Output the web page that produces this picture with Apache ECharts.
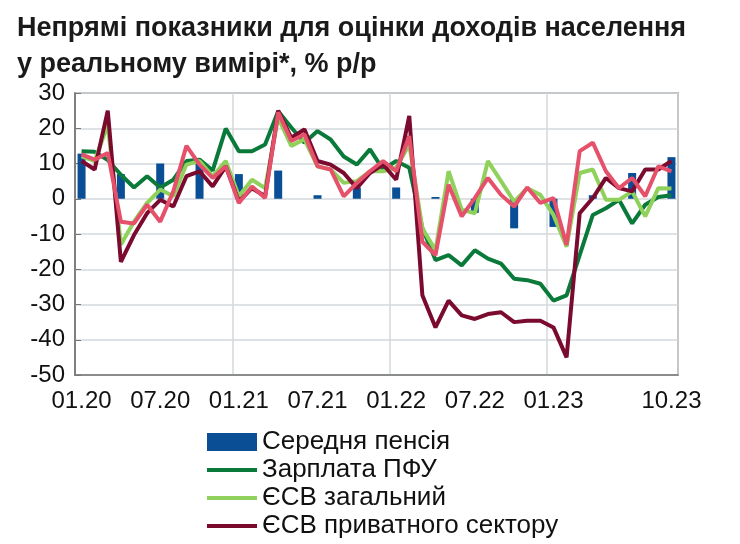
<!DOCTYPE html>
<html>
<head>
<meta charset="utf-8">
<script src="https://cdn.jsdelivr.net/npm/echarts@6/dist/echarts.min.js"></script>
<style>
	body{margin:0;background:#fff;}
	#chart{width:740px;height:544px;}
</style>
</head>
<body>
<div id="chart"></div>
<script>
var months = ['01.20','02.20','03.20','04.20','05.20','06.20','07.20','08.20','09.20','10.20','11.20','12.20',
	'01.21','02.21','03.21','04.21','05.21','06.21','07.21','08.21','09.21','10.21','11.21','12.21',
	'01.22','02.22','03.22','04.22','05.22','06.22','07.22','08.22','09.22','10.22','11.22','12.22',
	'01.23','02.23','03.23','04.23','05.23','06.23','07.23','08.23','09.23','10.23'];
var shownLabels = ['01.20','07.20','01.21','07.21','01.22','07.22','01.23','10.23'];

/*Середня пенсія (квартальні)*/
var pension = [12.8,'-','-',7,'-','-',10,'-','-',10,'-','-',7,'-','-',8,'-','-',1,'-','-',3.2,'-','-',
	3.2,'-','-',0.5,'-','-',-4,'-','-',-8.4,'-','-',-8,'-','-',1,'-','-',7.3,'-','-',11.8];
/*Зарплата ПФУ*/
var salaryPfu = [13.5,13.3,11,6.8,3.2,6.4,3.2,5.4,10.7,11.1,8,19.9,13.5,13.5,15.4,24.8,20.2,15.9,19.2,16.8,12,9.7,14,
	8.3,10.7,8.8,-8.4,-17.4,-16,-18.9,-14.6,-17,-18.4,-22.7,-23.1,-24.1,-28.9,-27.4,-16,-4.6,-2.7,-0.3,-7,-1.7,0.5,1];
/*ЄСВ загальний*/
var esvTotal = [12,10.7,21,-13,-6.5,-1.2,2.6,0.7,9.7,10.7,6.4,10.7,0.7,5.4,3,23,15,16.9,9.2,8.3,4.5,5,7.8,
	7.8,8.8,15.4,-8.4,-14.6,7.8,-3.1,-4.1,10.7,5,-0.8,3,1.1,-4.6,-13.6,7.3,8.3,-0.3,-0.3,2.1,-5,3,2.9];
/*ЄСВ приватного сектору*/
var esvPrivate = [10.7,8.3,25,-17.9,-10.3,-4.1,-0.3,-2.2,6.4,7.8,3.5,9.2,-0.8,3,0.7,25,17.3,19.7,10.7,9.7,7.3,3,7.3,
	9.7,5.4,23.5,-27.4,-36.5,-28.9,-33.1,-34.1,-32.7,-32.2,-35,-34.6,-34.6,-36.5,-45,-4.1,0.2,5.9,3,2.1,8.3,8.3,10.7];
/*п'ятий ряд (рожевий)*/
var fifthSeries = [12.6,11.1,13,-6.5,-7,-1.7,-6.5,2.1,15,9.7,5.9,9.2,-1.2,3.5,0.2,24.5,16.4,18.3,9.2,8.3,0.7,4.5,7.8,
	10.7,7.8,17.8,-12.2,-16,4,-5,0.2,5.9,1.1,-2.2,3.2,-1.2,0.2,-13.1,13.5,15.9,7.8,3,5.9,0.7,9.2,7.8];

var chart = echarts.init(document.getElementById('chart'));
var font = 'Liberation Sans, Arial, sans-serif';
function line(name, data, color){
	return {
		name : name,
		type : 'line',
		data : data,
		symbol : 'none',
		lineStyle : { color : color, width : 4 },
		itemStyle : { color : color },
		z : 3
	};
}
function lineLegend(name){
	return { name : name, itemStyle : { opacity : 0 }, lineStyle : { width : 4 } };
}
var option = {
	animation : false,
	title : {
		text : 'Непрямі показники для оцінки доходів населення\nу реальному вимірі*, % р/р',
		left : 12,
		top : 6,
		textStyle : { fontFamily : font, fontSize : 27, fontWeight : 'bold', color : '#1a1a1a', lineHeight : 36 }
	},
	legend : {
		orient : 'vertical',
		left : 200,
		top : 424,
		itemGap : 2,
		itemWidth : 50,
		itemHeight : 18,
		textStyle : { fontFamily : font, fontSize : 26, color : '#111' },
		data : [
			{ name : 'Середня пенсія', icon : 'rect' },
			lineLegend('Зарплата ПФУ'), lineLegend('ЄСВ загальний'), lineLegend('ЄСВ приватного сектору')
		]
	},
	grid : {
		left : 75,
		right : 62,
		top : 93,
		bottom : 169,
		show : true,
		borderColor : '#777',
		borderWidth : 1.5
	},
	xAxis : {
		type : 'category',
		data : months,
		axisLine : { onZero : false, lineStyle : { color : '#777', width : 1.5 } },
		axisTick : { show : false },
		axisLabel : {
			interval : 0,
			margin : 14,
			fontFamily : font,
			fontSize : 24,
			color : '#111',
			formatter : function(v){ return shownLabels.indexOf(v) >= 0 ? v : ''; }
		},
		splitLine : {
			show : true,
			interval : function(idx){ return idx % 12 === 0 && idx > 0; },
			lineStyle : { color : '#d4d8dc', width : 1.5 }
		}
	},
	yAxis : {
		type : 'value',
		min : -50,
		max : 30,
		interval : 10,
		axisLine : { show : true, lineStyle : { color : '#777', width : 1.5 } },
		axisTick : { show : true, inside : true, length : 6, lineStyle : { color : '#777' } },
		axisLabel : { fontFamily : font, fontSize : 24, color : '#111', margin : 10 },
		splitLine : { lineStyle : { color : '#d4d8dc', width : 1.5 } }
	},
	series : [
		{
			name : 'Середня пенсія',
			type : 'bar',
			data : pension,
			barWidth : 8,
			itemStyle : { color : '#0a4f96' },
			z : 2
		},
		line('Зарплата ПФУ', salaryPfu, '#0a7a3a'),
		line('ЄСВ загальний', esvTotal, '#8fd15a'),
		line('ЄСВ приватного сектору', esvPrivate, '#7a0a2e'),
		line('Інше', fifthSeries, '#e5506a')
	]
};
chart.setOption(option);
</script>
</body>
</html>
